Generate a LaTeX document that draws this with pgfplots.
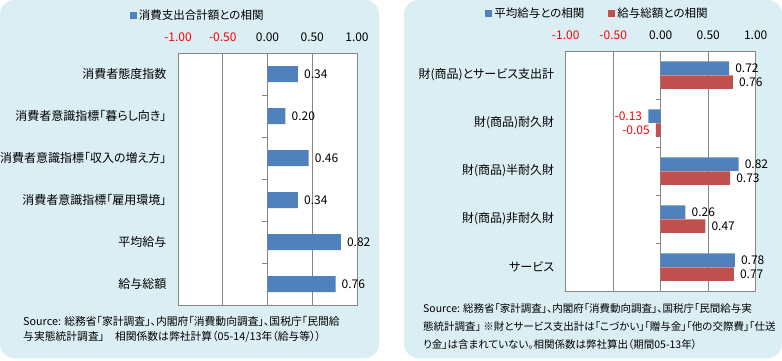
\documentclass[border=0pt]{standalone}
\usepackage{pgfplots}
\pgfplotsset{compat=1.18}
\usepackage{fontspec}
\setmainfont{Noto Sans CJK JP}[RawFeature=+palt]
\definecolor{bg}{RGB}{218,238,243}
\definecolor{cblue}{RGB}{79,129,189}
\definecolor{cred}{RGB}{192,80,77}
\definecolor{gridc}{RGB}{134,134,134}
\pgfplotsset{
  panel/.style={
    scale only axis, anchor=south west, xbar,
    xmin=-1, xmax=1, y dir=reverse, enlargelimits=false,
    xtick={-1,-0.5,0,0.5,1},
    xticklabels={\textcolor{red}{-1.00},\textcolor{red}{-0.50},0.00,0.50,1.00},
    xticklabel pos=upper,
    major tick length=0pt,
    xmajorgrids, grid style={gridc, line width=0.8pt},
    axis line style={gridc, line width=0.8pt},
    axis background/.style={fill=white},
    tick label style={font=\fontsize{12}{14}\selectfont},
    x tick label style={yshift=8pt},
    y tick label style={xshift=-8pt},
    /pgf/number format/assume math mode=true,
    nodes near coords={\pgfmathfloatifflags{\pgfplotspointmeta}{2}{\color{red}}{}\pgfmathprintnumber[fixed,zerofill,precision=2]{\pgfplotspointmeta}},
    every node near coord/.append style={font=\fontsize{12}{14}\selectfont, inner xsep=6pt},
    legend image code/.code={\fill[##1,draw=none] (0pt,-3.5pt) rectangle (7pt,3.5pt);},
    legend style={draw=none, fill=none, font=\fontsize{11.5}{13}\selectfont, anchor=center, /tikz/every even column/.append style={column sep=22pt}},
  }
}
\begin{document}
\begin{tikzpicture}
\path[use as bounding box] (0pt,0pt) rectangle (782pt,360pt);
\fill[bg, rounded corners=14pt] (0pt,2pt) rectangle (379pt,360pt);
\fill[bg, rounded corners=14pt] (404pt,2pt) rectangle (782pt,360pt);

\begin{axis}[panel,
  at={(178pt,55pt)}, width=179pt, height=252pt,
  ymin=-0.5, ymax=5.5, bar width=16pt,
  ytick={0,1,2,3,4,5},
  yticklabels={消費者態度指数,消費者意識指標「暮らし向き」,消費者意識指標「収入の増え方」,消費者意識指標「雇用環境」,平均給与,給与総額},
  legend style={at={(0.11,1.15)}},
]
\addplot[fill=cblue, draw=none] coordinates {(0.34,0) (0.20,1) (0.46,2) (0.34,3) (0.82,4) (0.76,5)};
\addlegendentry{消費支出合計額との相関}
\draw[gridc, line width=0.8pt] (axis cs:0,0.5) -- ++(-5pt,0pt);
\draw[gridc, line width=0.8pt] (axis cs:0,1.5) -- ++(-5pt,0pt);
\draw[gridc, line width=0.8pt] (axis cs:0,2.5) -- ++(-5pt,0pt);
\draw[gridc, line width=0.8pt] (axis cs:0,3.5) -- ++(-5pt,0pt);
\draw[gridc, line width=0.8pt] (axis cs:0,4.5) -- ++(-5pt,0pt);
\end{axis}

\begin{axis}[panel,
  at={(565.7pt,69pt)}, width=190pt, height=240pt,
  ymin=-0.5, ymax=4.5, bar width=13.5pt,
  ytick={0,1,2,3,4},
  yticklabels={財(商品)とサービス支出計,財(商品)耐久財,財(商品)半耐久財,財(商品)非耐久財,サービス},
  legend columns=2,
  legend style={at={(0.167,1.155)}},
]
\addplot[fill=cblue, draw=none, bar shift=7pt] coordinates {(0.72,0) (-0.13,1) (0.82,2) (0.26,3) (0.78,4)};
\addlegendentry{平均給与との相関}
\addplot[fill=cred, draw=none, bar shift=-7pt] coordinates {(0.76,0) (-0.05,1) (0.73,2) (0.47,3) (0.77,4)};
\addlegendentry{給与総額との相関}
\draw[gridc, line width=0.8pt] (axis cs:0,0.5) -- ++(-5pt,0pt);
\draw[gridc, line width=0.8pt] (axis cs:0,1.5) -- ++(-5pt,0pt);
\draw[gridc, line width=0.8pt] (axis cs:0,2.5) -- ++(-5pt,0pt);
\draw[gridc, line width=0.8pt] (axis cs:0,3.5) -- ++(-5pt,0pt);
\end{axis}

\begin{scope}[every node/.style={anchor=west, inner sep=0pt, font=\fontsize{10.8}{12}\selectfont}]
\node at (23pt,39pt) {Source: 総務省「家計調査」、内閣府「消費動向調査」、国税庁「民間給};
\node at (23pt,23pt) {与実態統計調査」　相関係数は弊社計算（05-14/13年（給与等））};
\end{scope}
\begin{scope}[every node/.style={anchor=west, inner sep=0pt, font=\fontsize{10.5}{12}\selectfont}]
\node at (423pt,51pt) {Source: 総務省「家計調査」、内閣府「消費動向調査」、国税庁「民間給与実};
\node at (423pt,33pt) {態統計調査」 ※財とサービス支出計は「こづかい」「贈与金」「他の交際費」「仕送};
\node at (423pt,15pt) {り金」は含まれていない。相関係数は弊社算出（期間05-13年）};
\end{scope}
\end{tikzpicture}
\end{document}
